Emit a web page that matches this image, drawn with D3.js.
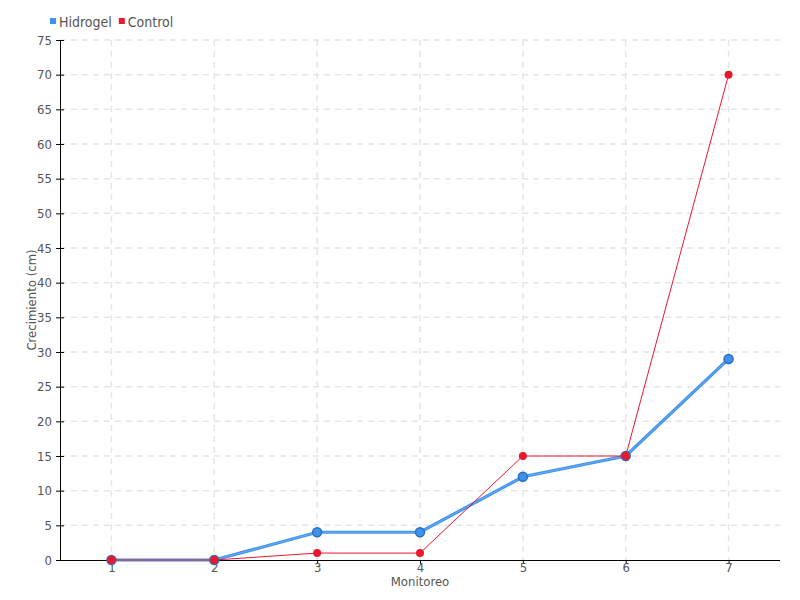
<!DOCTYPE html>
<html><head><meta charset="utf-8">
<script src="https://cdn.jsdelivr.net/npm/d3@7"></script>
<style>
body{margin:0;background:#fff;}
text{font-family:"DejaVu Sans Condensed","Liberation Sans Narrow",sans-serif;font-stretch:condensed;fill:#555;}
</style></head><body>
<svg id="c" width="800" height="600"></svg>
<script>
const categories = ["1","2","3","4","5","6","7"];
const hidrogel = [0,0,4,4,12,15,29];
const control = [0,0,1,1,15,15,70];
const yTicks = [0,5,10,15,20,25,30,35,40,45,50,55,60,65,70,75];
const seriesNames = ["Hidrogel","Control"];
const colors = ["#3f92ec","#e8192c"];

const svg = d3.select("#c");
const m = {l:60, r:20, t:40, b:40};
const W = 800, H = 600;
const x = d3.scalePoint().domain(categories).range([m.l, W-m.r]).padding(0.5);
const y = d3.scaleLinear().domain([0,75]).range([H-m.b, m.t]);

// grid
const g = svg.append("g");
g.selectAll(".hg").data(yTicks.slice(1)).enter().append("line")
 .attr("x1",m.l).attr("x2",W-m.r).attr("y1",d=>y(d)).attr("y2",d=>y(d))
 .attr("stroke","#e5e5e5").attr("stroke-width",1.5).attr("stroke-dasharray","6,5");
g.selectAll(".vg").data(categories).enter().append("line")
 .attr("x1",d=>x(d)).attr("x2",d=>x(d)).attr("y1",m.t).attr("y2",H-m.b)
 .attr("stroke","#e5e5e5").attr("stroke-width",1.5).attr("stroke-dasharray","6,5");

// axes
const yAx = svg.append("g").attr("transform",`translate(${m.l},0)`)
 .call(d3.axisLeft(y).tickValues(yTicks).tickSize(4).tickPadding(4));
yAx.select(".domain").attr("stroke","#000").attr("d",`M0.5,${m.t}V${H-m.b}`);
yAx.selectAll(".tick line").attr("x1",-4).attr("x2",4).attr("stroke","#000");
yAx.selectAll("text").style("font-size","13px").attr("fill","#555");

const xAx = svg.append("g").attr("transform",`translate(0,${H-m.b})`)
 .call(d3.axisBottom(x).tickSize(4).tickPadding(-1));
xAx.select(".domain").attr("stroke","#000").attr("d",`M${m.l},0.5H${W-m.r}`);
xAx.selectAll(".tick line").attr("stroke","#000");
xAx.selectAll("text").style("font-size","13px").attr("fill","#555");

svg.append("text").attr("x",(m.l+W-m.r)/2).attr("y",586).attr("text-anchor","middle")
 .style("font-size","13px").text("Monitoreo");
svg.append("text").attr("transform",`translate(36,${(m.t+H-m.b)/2}) rotate(-90)`)
 .attr("text-anchor","middle").style("font-size","13px").text("Crecimiento (cm)");

// lines
const line = d3.line().x((d,i)=>x(categories[i])).y(d=>y(d));
svg.append("path").datum(hidrogel).attr("d",line).attr("fill","none")
 .attr("stroke",colors[0]).attr("stroke-width",3.2);
svg.append("path").datum(hidrogel).attr("d",line).attr("fill","none")
 .attr("stroke","#8cc2f8").attr("stroke-width",0.8).attr("opacity",0.7);
svg.selectAll(".hp").data(hidrogel).enter().append("circle")
 .attr("cx",(d,i)=>x(categories[i])).attr("cy",d=>y(d)).attr("r",4.5)
 .attr("fill",colors[0]).attr("stroke","#2a6fc0").attr("stroke-width",1.5);
svg.append("path").datum(control).attr("d",line).attr("fill","none")
 .attr("stroke",colors[1]).attr("stroke-width",1);
svg.selectAll(".cp").data(control).enter().append("circle")
 .attr("cx",(d,i)=>x(categories[i])).attr("cy",d=>y(d)).attr("r",4)
 .attr("fill",colors[1]);

// legend
const lg = svg.append("g");
let lx = 50;
seriesNames.forEach((n,i)=>{
  lg.append("rect").attr("x",lx).attr("y",18).attr("width",6).attr("height",6).attr("fill",colors[i]);
  const t = lg.append("text").attr("x",lx+9).attr("y",27).style("font-size","14px").text(n);
  lx += 9 + t.node().getComputedTextLength() + 7;
});
</script></body></html>
